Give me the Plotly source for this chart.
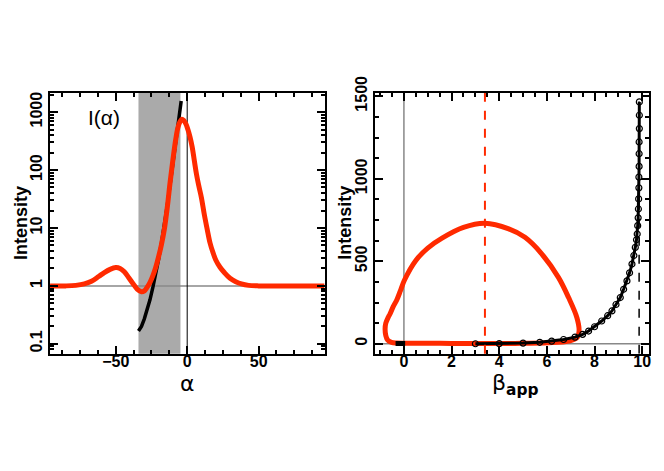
import plotly.graph_objects as go

# left panel: I(alpha)
alpha_red = [-96, -85, -78, -72, -67, -62, -58, -54, -50, -47, -44, -41, -38, -35,
             -32, -30, -28, -26, -24, -22, -20, -18, -16, -14, -12, -10, -8, -6.5,
             -5, -3.7, -2.5, -1, 0.5, 2, 3.5, 5, 6.5, 8, 10, 12, 14, 16, 18, 20,
             23, 26, 30, 34, 38, 43, 50, 60, 75, 96]
I_red = [1, 1, 1.02, 1.08, 1.2, 1.45, 1.7, 1.93, 2.07, 2.0, 1.75, 1.4, 1.1, 0.88,
         0.79, 0.82, 0.95, 1.15, 1.5, 2.1, 3.2, 5.2, 9.5, 22, 60, 150, 340, 540,
         690, 755, 720, 630, 500, 370, 250, 145, 85, 55, 33, 17, 9.5, 5.5, 3.8, 2.8,
         2.1, 1.7, 1.35, 1.18, 1.08, 1.02, 1, 1, 1, 1]

alpha_blk = [-34.1, -32, -30, -28, -26, -24, -22, -20, -18, -16, -14, -12, -10, -8, -6, -4.2]
I_blk = [0.167, 0.2, 0.27, 0.38, 0.58, 0.95, 1.6, 2.9, 5.5, 11, 24, 55, 125, 290, 680, 1550]

shade_alpha = [-34.1, -4.7]

# right panel: Intensity vs beta_app
beta_loop = [3.0, 2.0, 1.0, 0.0, -0.3, -0.52, -0.68, -0.76, -0.79, -0.76, -0.66, -0.59,
             -0.45, -0.31, -0.15, 0.02, 0.5, 1.0, 1.6, 2.5, 3.4, 4.4, 5.08, 5.79, 6.49,
             6.91, 7.26, 7.35, 7.26, 6.91, 6.06, 4.66, 3.0]
I_loop = [1, 2, 3, 3, 4, 8, 22, 50, 90, 125, 160, 179,
          225, 262, 320, 385, 505, 580, 640, 705, 730, 696, 645, 544, 401,
          280, 158, 77, 36, 16, 6, 2, 1]

beta_blk = [3.0, 4.0, 5.0, 5.7, 6.2, 6.7, 7.18, 7.5, 7.75, 8.0, 8.3, 8.55, 8.73, 8.9,
            9.08, 9.22, 9.36, 9.47, 9.57, 9.65, 9.71, 9.76, 9.79, 9.81, 9.83, 9.84,
            9.85, 9.86, 9.86, 9.87, 9.87, 9.87, 9.88, 9.88, 9.88]
I_blk_r = [0.2, 1, 4, 9, 16, 26, 40, 57, 77, 103, 138, 170, 199, 238,
           280, 330, 381, 430, 483, 535, 584, 630, 665, 716, 763, 817,
           878, 945, 1010, 1075, 1152, 1223, 1304, 1385, 1466]
beta_blk_low = [-0.35, -0.15, 0.05]
I_blk_low = [1, 1, 1]

beta_peak = 3.4
beta_max = 9.87

RED = "#ff2a00"
FONT = "Liberation Sans"

fig = go.Figure()

fig.add_trace(go.Scatter(x=alpha_blk, y=I_blk, mode="lines",
                         line=dict(color="black", width=3.5), xaxis="x", yaxis="y"))
fig.add_trace(go.Scatter(x=alpha_red, y=I_red, mode="lines", line_shape="spline",
                         line=dict(color=RED, width=5), xaxis="x", yaxis="y"))

fig.add_trace(go.Scatter(x=beta_loop, y=I_loop, mode="lines", line_shape="spline",
                         line=dict(color=RED, width=5), xaxis="x2", yaxis="y2"))
fig.add_trace(go.Scatter(x=beta_blk, y=I_blk_r, mode="lines+markers",
                         line=dict(color="black", width=3),
                         marker=dict(symbol="circle-open", size=6, color="black",
                                     line=dict(width=1.2)),
                         xaxis="x2", yaxis="y2"))
fig.add_trace(go.Scatter(x=beta_blk_low, y=I_blk_low, mode="lines",
                         line=dict(color="black", width=5), xaxis="x2", yaxis="y2"))

# shaded band + reference lines
fig.add_shape(type="rect", xref="x", yref="y domain", x0=shade_alpha[0], x1=shade_alpha[1],
              y0=0, y1=1, fillcolor="#aaaaaa", line_width=0, layer="below")
fig.add_shape(type="line", xref="x domain", yref="y", x0=0, x1=1, y0=1, y1=1,
              line=dict(color="#888888", width=1.5), layer="below")
fig.add_shape(type="line", xref="x", yref="y domain", x0=0, x1=0, y0=0, y1=1,
              line=dict(color="black", width=1), layer="below")
fig.add_shape(type="line", xref="x2 domain", yref="y2", x0=0, x1=1, y0=0, y1=0,
              line=dict(color="#888888", width=1.5), layer="below")
fig.add_shape(type="line", xref="x2", yref="y2 domain", x0=0, x1=0, y0=0, y1=1,
              line=dict(color="#888888", width=1.5), layer="below")
fig.add_shape(type="line", xref="x2", yref="y2 domain", x0=beta_peak, x1=beta_peak, y0=0, y1=1,
              line=dict(color=RED, width=2, dash="dash"))
fig.add_shape(type="line", xref="x2", yref="y2", x0=beta_max, x1=beta_max, y0=-60, y1=1470,
              line=dict(color="black", width=1.5, dash="dash"))

axis_common = dict(showline=True, linecolor="black", linewidth=2, mirror="ticks",
                   ticks="inside", ticklen=8, tickwidth=1.5, tickcolor="black",
                   showgrid=False, zeroline=False, automargin=False,
                   tickfont=dict(family=FONT, size=16, color="black", weight="bold"))

fig.update_layout(
    width=664, height=471,
    margin=dict(l=0, r=0, t=0, b=0),
    paper_bgcolor="white", plot_bgcolor="white",
    showlegend=False,
    xaxis=dict(domain=[0.0633, 0.4775], range=[-96, 96.5], anchor="y",
               tickvals=[-50, 0, 50], ticktext=["\u221250", "0", "50"],
               ticklabelstandoff=-8,
               minor=dict(dtick=12.5, tick0=0, ticks="inside", ticklen=4, tickcolor="black"),
               **axis_common),
    yaxis=dict(domain=[0.2661, 0.8196], type="log", range=[-1.17, 3.33], anchor="x",
               dtick=1, exponentformat="none", tickangle=-90,
               minor=dict(dtick="D1", ticks="inside", ticklen=4, tickcolor="black"),
               **axis_common),
    xaxis2=dict(domain=[0.5532, 0.9659], range=[-1.2, 10.3], anchor="y2",
                dtick=2, ticklabelstandoff=-8,
                minor=dict(dtick=0.5, ticks="inside", ticklen=4, tickcolor="black"),
                **axis_common),
    yaxis2=dict(domain=[0.2661, 0.8196], range=[-60, 1520], anchor="x2",
                dtick=500, tickangle=-90,
                minor=dict(dtick=125, ticks="inside", ticklen=4, tickcolor="black"),
                **axis_common),
)

ann_font = dict(family=FONT, size=18, color="black", weight="bold")
common_ann = dict(xref="paper", yref="paper", xanchor="center", yanchor="middle",
                  showarrow=False)
fig.add_annotation(text="Intensity", x=0.0196, y=0.5435, textangle=-90, font=ann_font,
                   **common_ann)
fig.add_annotation(text="Intensity", x=0.507, y=0.5435, textangle=-90, font=ann_font,
                   **common_ann)
fig.add_annotation(text="\u03b1", x=0.2706, y=0.2017,
                   font=dict(family="DejaVu Sans", size=22, color="black"), **common_ann)
fig.add_annotation(text="\u03b2<sub><b>app</b></sub>", x=0.7636, y=0.200,
                   font=dict(family="DejaVu Sans", size=22, color="black"), **common_ann)
fig.add_annotation(text="I(\u03b1)", x=0.145, y=0.767,
                   font=dict(family=FONT, size=21, color="black"), **common_ann)

fig.write_html("out.html")
